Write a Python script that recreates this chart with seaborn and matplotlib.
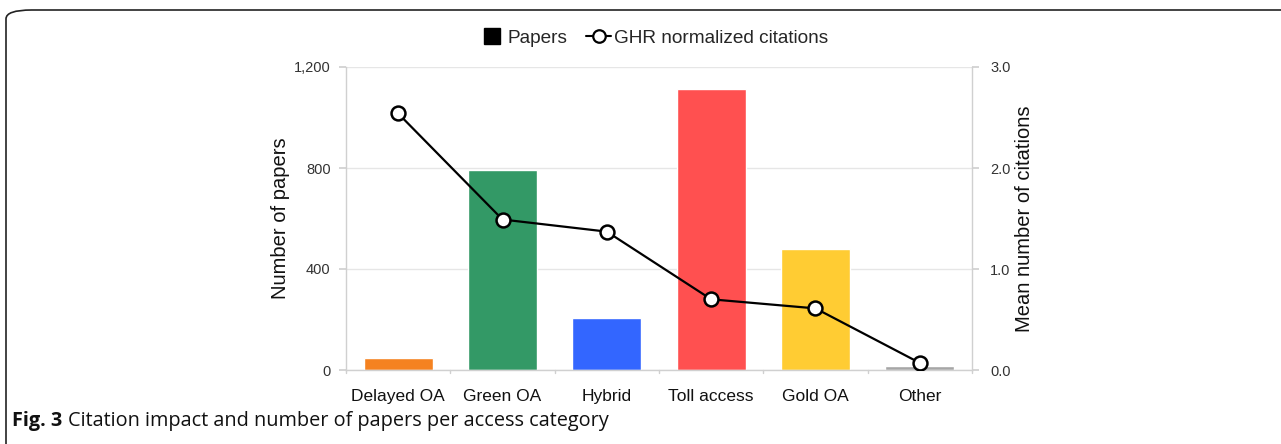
import matplotlib
matplotlib.use("Agg")
import matplotlib.pyplot as plt
import seaborn as sns
import pandas as pd
from matplotlib.patches import FancyBboxPatch
from matplotlib.lines import Line2D
from matplotlib.ticker import FuncFormatter, FixedLocator

categories = ["Delayed OA", "Green OA", "Hybrid", "Toll access", "Gold OA", "Other"]
papers = [48, 792, 207, 1113, 479, 16]
citations = [2.54, 1.49, 1.37, 0.70, 0.61, 0.07]
bar_colors = ["#F58220", "#339966", "#3366FF", "#FF5050", "#FFCC33", "#A6A6A6"]

sns.set_theme(style="white")
plt.rcParams["font.family"] = ["Liberation Sans", "DejaVu Sans"]

df = pd.DataFrame({"category": categories, "papers": papers, "citations": citations})

fig = plt.figure(figsize=(12.81, 4.44), dpi=100)
ax = fig.add_axes([346/1281, 1 - 370/444, (972 - 346)/1281, (370 - 67)/444])

sns.barplot(data=df, x="category", y="papers", hue="category", palette=bar_colors,
            width=0.66, ax=ax, legend=False, saturation=1, zorder=2)
ax.set_ylim(0, 1200)
ax.set_xlim(-0.5, 5.5)
ax.yaxis.set_major_locator(FixedLocator([0, 400, 800, 1200]))
ax.yaxis.set_major_formatter(FuncFormatter(lambda v, p: f"{int(v):,}"))
ax.grid(axis="y", color="#E6E6E6", linewidth=1, zorder=0)
ax.set_axisbelow(True)
for s in ["left", "right", "bottom"]:
    ax.spines[s].set_color("#D0D0D0")
    ax.spines[s].set_linewidth(1)
ax.spines["top"].set_visible(False)
ax.set_xlabel("")
ax.set_ylabel("Number of papers", fontsize=14.5, color="#111111", labelpad=3)
ax.tick_params(axis="y", labelsize=10.5, colors="#333333", left=True, length=5, color="#D0D0D0", pad=6)
ax.tick_params(axis="x", labelsize=12.5, colors="#111111", bottom=False, pad=8)
for i in range(7):
    ax.plot([i - 0.5, i - 0.5], [0, -12], color="#D0D0D0", lw=1, clip_on=False,
            transform=ax.transData)

ax2 = ax.twinx()
sns.pointplot(x=categories, y=citations, ax=ax2, color="black", marker="o",
              markersize=10, linewidth=1.6, markerfacecolor="white",
              markeredgecolor="black", markeredgewidth=1.8)
ax2.set_ylim(0, 3.0)
ax2.set_xlim(-0.5, 5.5)
ax2.yaxis.set_major_locator(FixedLocator([0, 1, 2, 3]))
ax2.yaxis.set_major_formatter(FuncFormatter(lambda v, p: f"{v:.1f}"))
for s in ["left", "right", "bottom", "top"]:
    ax2.spines[s].set_visible(False)
ax2.set_ylabel("Mean number of citations", fontsize=14.5, color="#111111", labelpad=3)
ax2.tick_params(axis="y", labelsize=10.5, colors="#333333", right=True, length=5, color="#D0D0D0", pad=8)
ax2.grid(False)
ax2.set_xlabel("")

handles = [Line2D([0], [0], color="black", marker="s", markersize=12, lw=0,
                  markerfacecolor="black"),
           Line2D([0], [0], color="black", marker="o", markerfacecolor="white",
                  markeredgecolor="black", markersize=9, markeredgewidth=1.6, lw=1.5)]
fig.legend(handles, ["Papers", "GHR normalized citations"], loc="center",
           bbox_to_anchor=(654/1281, 1 - 38/444), ncol=2, frameon=False,
           prop={"family": ["Liberation Sans", "DejaVu Sans"], "size": 13.7},
           handlelength=1.3, handletextpad=0.15, columnspacing=1.0)

border = FancyBboxPatch((6/1281, -0.1), 1.2, (1 - 10/444) + 0.1,
                        boxstyle="round,pad=0,rounding_size=0.02",
                        transform=fig.transFigure, facecolor="none",
                        edgecolor="#222222", linewidth=1.2, clip_on=False)
fig.patches.append(border)

fig.text(12/1281, 1 - 421/444, "Fig. 3", fontsize=14.3, fontweight="bold",
         family=["Open Sans", "DejaVu Sans"], va="center", ha="left", color="#111111")
fig.text(68/1281, 1 - 421/444, "Citation impact and number of papers per access category",
         fontsize=14.3, family=["Open Sans", "DejaVu Sans"], va="center", ha="left", color="#111111")

fig.savefig("out.png", dpi=100)
